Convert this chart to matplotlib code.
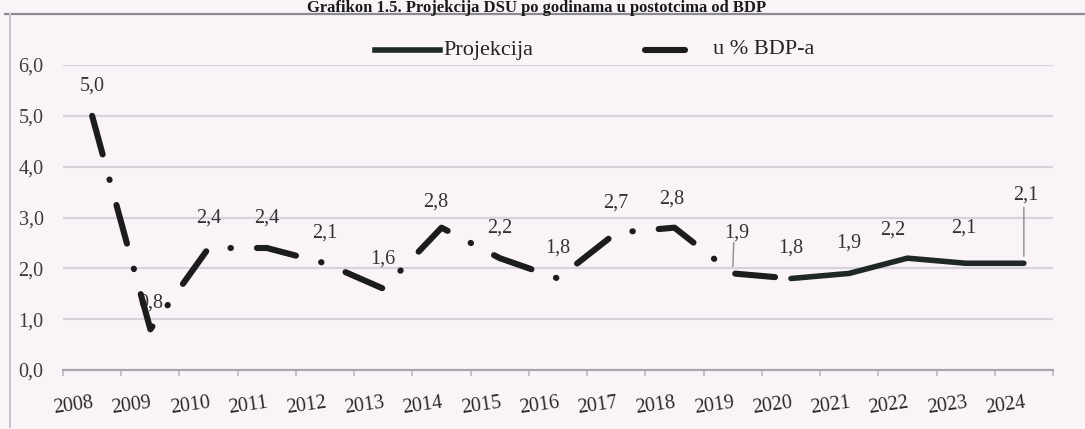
import numpy as np
import matplotlib
matplotlib.use("Agg")
import matplotlib.pyplot as plt
from matplotlib.lines import Line2D

# data
years = ["2008", "2009", "2010", "2011", "2012", "2013", "2014", "2015", "2016",
         "2017", "2018", "2019", "2020", "2021", "2022", "2023", "2024"]
bdp = [5.0, 0.8, 2.4, 2.4, 2.1, 1.6, 2.8, 2.2, 1.8, 2.7, 2.8, 1.9, 1.8,
       np.nan, np.nan, np.nan, np.nan]
projekcija = [np.nan] * 12 + [1.8, 1.9, 2.2, 2.1, 2.1]
labels = ["5,0", "0,8", "2,4", "2,4", "2,1", "1,6", "2,8", "2,2", "1,8", "2,7",
          "2,8", "1,9", "1,8", "1,9", "2,2", "2,1", "2,1"]
yticks = [0.0, 1.0, 2.0, 3.0, 4.0, 5.0, 6.0]

plt.rcParams["font.family"] = ["Liberation Serif", "DejaVu Serif"]
plt.rcParams["lines.scale_dashes"] = False

bg = "#faf4f9"
W, H = 1085, 429
fig = plt.figure(figsize=(W / 100, H / 100), dpi=100, facecolor=bg)
ax = fig.add_axes([63 / W, 1 - 370 / H, (1053 - 63) / W, (370 - 65) / H])
ax.set_facecolor(bg)

x = np.arange(len(years))
ax.set_xlim(-0.5, len(years) - 0.5)
ax.set_ylim(0, 6)

for y in yticks[1:]:
    ax.axhline(y, color="#d6d3da", lw=1.6, zorder=0)

# dashed history series (long dash - dot)
px = 0.72
ax.plot(x, bdp, color="#1c1c1e", lw=4.4, solid_capstyle="round",
        dash_capstyle="round",
        linestyle=(0, (40 * px, 26 * px, 0.3, 26 * px)), zorder=3)
ax.plot(x, projekcija, color="#1e2927", lw=4.0, solid_capstyle="round", zorder=3)

# data labels
vals = [b if not np.isnan(b) else p for b, p in zip(bdp, projekcija)]
offsets = {1: (0, 26), 5: (0, 30), 6: (-6, 26), 10: (-3, 29), 11: (4, 40),
           14: (-15, 28), 12: (0, 30), 15: (-2, 35), 16: (2, 68)}
for i, (v, t) in enumerate(zip(vals, labels)):
    dx, dy = offsets.get(i, (0, 30))
    ax.annotate(t, (x[i], v), xytext=(dx * px, dy * px), textcoords="offset points",
                ha="center", va="center", fontsize=14.5, color="#333333", zorder=1)
# leader lines
for i, (dx, dy) in [(11, (1, 31)), (16, (0, 56))]:
    ax.annotate("", (x[i], vals[i]), xytext=(dx * px, dy * px), textcoords="offset points",
                arrowprops=dict(arrowstyle="-", color="#8a8a8a", lw=1.0,
                                shrinkA=0, shrinkB=5), zorder=1)

ax.set_yticks(yticks)
ax.set_yticklabels([f"{v:.1f}".replace(".", ",") for v in yticks])
ax.set_xticks(x)
ax.set_xticklabels(years)
ax.set_xticks(np.arange(len(years) + 1) - 0.5, minor=True)
ax.tick_params(axis="y", length=0, pad=14, labelsize=14.5, labelcolor="#3c3c3c")
ax.tick_params(axis="x", which="major", length=0, pad=17, labelsize=14.5, labelcolor="#2a2a2a")
ax.tick_params(axis="x", which="minor", length=4, color="#b8b8be", width=1.2)
for lab in ax.get_xticklabels():
    lab.set_rotation(8)
    lab.set_ha("right")
    lab.set_rotation_mode("anchor")

for s in ["top", "right", "left"]:
    ax.spines[s].set_visible(False)
ax.spines["bottom"].set_color("#a9a7ae")
ax.spines["bottom"].set_linewidth(1.6)

# frame and title
fig.add_artist(Line2D([5 / W, 1], [1 - 14 / H] * 2, color="#8c8c90", lw=1.6))
fig.add_artist(Line2D([10 / W] * 2, [1 - 14 / H, 1 - 427 / H], color="#c8c4cc", lw=1.4))
fig.text(537 / W, 1 - 12 / H, "Grafikon 1.5. Projekcija DSU po godinama u postotcima od BDP",
         ha="center", va="baseline", fontsize=12, fontweight="bold", color="#1a1a1a")

# legend
fig.add_artist(Line2D([375 / W, 440 / W], [1 - 50 / H] * 2, color="#1e2927", lw=4.0))
fig.text(443 / W, 1 - 50 / H, "Projekcija", ha="left", va="center", fontsize=16, color="#222222")
fig.add_artist(Line2D([645 / W, 685 / W], [1 - 50 / H] * 2, color="#1c1c1e", lw=4.4,
                      solid_capstyle="round"))
fig.text(713 / W, 1 - 50 / H, "u % BDP-a", ha="left", va="center", fontsize=16, color="#222222")

fig.savefig("out.png", dpi=100, facecolor=bg)
